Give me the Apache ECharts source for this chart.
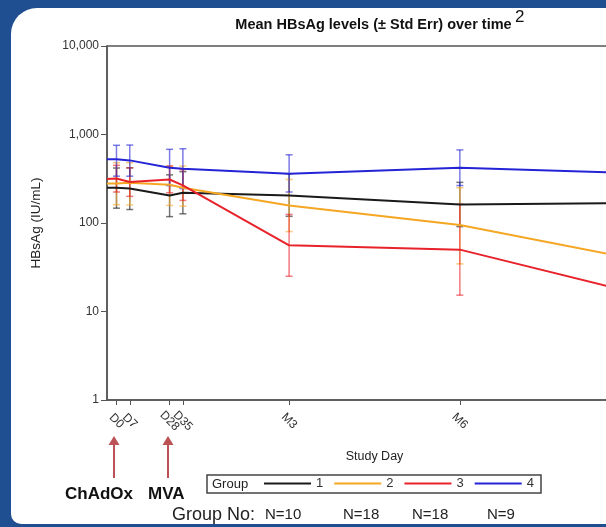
<!DOCTYPE html>
<html><head><meta charset="utf-8">
<script src="https://cdn.jsdelivr.net/npm/echarts@6/dist/echarts.min.js"></script>
<style>
html,body{margin:0;padding:0;background:#1f4e91;width:606px;height:527px;overflow:hidden}
#panel{position:absolute;left:11px;top:8px;width:640px;height:516px;background:#fff;border-radius:26px 0 0 10px}
#c{position:absolute;left:0;top:0;width:606px;height:527px}
</style>
</head><body><div id="panel"></div><div id="c"></div>
<script>
// ---- data ----
const tickDays = [0, 7, 28, 35, 91, 181, 271];
const tickLabels = ['D0', 'D7', 'D28', 'D35', 'M3', 'M6', 'M9'];
const groupNames = ['1', '2', '3', '4'];
const groupColors = ['#1a1a1a', '#f5a623', '#e8222a', '#2424d6'];
const screeningDay = -5;
const screeningMean = [250, 280, 315, 525];
const mean1 = [250, 245, 205, 220, 205, 162, 168];
const low1  = [147, 142, 118, 127, 119, 91, 95];
const high1 = [418, 420, 350, 380, 360, 288, 300];
const mean2 = [280, 285, 270, 250, 158, 95, 40];
const low2  = [161, 160, 158, 155, 80, 34.5, 14];
const high2 = [480, 480, 440, 440, 310, 250, 110];
const mean3 = [318, 290, 310, 266, 56, 50, 16.7];
const low3  = [224, 200, 220, 180, 25, 15.3, 5];
const high3 = [448, 420, 440, 400, 125, 163, 55];
const mean4 = [525, 510, 420, 410, 361, 420, 368];
const low4  = [338, 338, 265, 245, 224, 265, 230];
const high4 = [755, 760, 680, 690, 590, 670, 590];
const groupN = ['N=10', 'N=18', 'N=18', 'N=9'];

const means = [mean1, mean2, mean3, mean4];
const lows = [low1, low2, low3, low4];
const highs = [high1, high2, high3, high4];

const FONT = 'Liberation Sans, Arial, sans-serif';
const chart = echarts.init(document.getElementById('c'), null, {renderer: 'canvas'});

function hexA(hex, a) {
  const n = parseInt(hex.slice(1), 16);
  return 'rgba(' + (n >> 16) + ',' + ((n >> 8) & 255) + ',' + (n & 255) + ',' + a + ')';
}

// overlapping labels are split over two coincident bottom axes so none is dropped
const ticksA = tickDays.filter((d, k) => k !== 1 && k !== 3);
const ticksB = tickDays.filter((d, k) => k === 1 || k === 3);
function labelFor(v) {
  for (let k = 0; k < tickDays.length; k++) {
    if (Math.abs(tickDays[k] - v) < 0.01) return tickLabels[k];
  }
  return '';
}

const series = [];
groupNames.forEach((g, i) => {
  const errData = tickDays.map((d, k) => [d, lows[i][k], highs[i][k]]);
  series.push({
    name: 'err' + g, type: 'custom', z: 2,
    data: errData,
    encode: {x: 0, y: [1, 2]},
    renderItem: function (params, api) {
      const x = api.value(0);
      const lo = api.coord([x, api.value(1)]);
      const hi = api.coord([x, api.value(2)]);
      const w = 3.5;
      const st = {stroke: hexA(groupColors[i], 0.6), lineWidth: 1.5};
      return {type: 'group', children: [
        {type: 'line', shape: {x1: lo[0], y1: lo[1], x2: hi[0], y2: hi[1]}, style: st},
        {type: 'line', shape: {x1: lo[0] - w, y1: lo[1], x2: lo[0] + w, y2: lo[1]}, style: st},
        {type: 'line', shape: {x1: hi[0] - w, y1: hi[1], x2: hi[0] + w, y2: hi[1]}, style: st}
      ]};
    }
  });
});
groupNames.forEach((g, i) => {
  const pts = [[screeningDay, screeningMean[i]]].concat(tickDays.map((d, k) => [d, means[i][k]]));
  series.push({
    name: g, type: 'line', z: 3, data: pts, showSymbol: false, symbol: 'none',
    lineStyle: {color: groupColors[i], width: 2}, itemStyle: {color: groupColors[i]},
    emphasis: {disabled: true}
  });
});

function arrow(x) {
  return [
    {type: 'line', shape: {x1: x, y1: 478, x2: x, y2: 444}, style: {stroke: '#bd5256', lineWidth: 2}},
    {type: 'polygon', shape: {points: [[x, 436], [x - 5.5, 445], [x + 5.5, 445]]}, style: {fill: '#bd5256'}}
  ];
}

const nX = [265, 343, 412, 487];
const graphics = [
  {type: 'text', x: 373.5, y: 25, style: {text: 'Mean HBsAg levels (± Std Err) over time', font: 'bold 14.5px ' + FONT, fill: '#111', textAlign: 'center', textVerticalAlign: 'middle'}},
  {type: 'text', x: 515, y: 17, style: {text: '2', font: '17px ' + FONT, fill: '#111', textAlign: 'left', textVerticalAlign: 'middle'}},
  {type: 'text', x: 374.5, y: 457, style: {text: 'Study Day', font: '12.5px ' + FONT, fill: '#222', textAlign: 'center', textVerticalAlign: 'middle'}},
  {type: 'rect', shape: {x: 207, y: 475, width: 334, height: 18}, style: {fill: 'none', stroke: '#444', lineWidth: 1.5}},
  {type: 'text', x: 212, y: 484.5, style: {text: 'Group', font: '13px ' + FONT, fill: '#222', textAlign: 'left', textVerticalAlign: 'middle'}},
  {type: 'text', x: 133, y: 494, style: {text: 'ChAdOx', font: 'bold 17px ' + FONT, fill: '#111', textAlign: 'right', textVerticalAlign: 'middle'}},
  {type: 'text', x: 148, y: 494, style: {text: 'MVA', font: 'bold 17px ' + FONT, fill: '#111', textAlign: 'left', textVerticalAlign: 'middle'}},
  {type: 'text', x: 172, y: 515, style: {text: 'Group No:', font: '18px ' + FONT, fill: '#222', textAlign: 'left', textVerticalAlign: 'middle'}}
].concat(groupN.map((t, i) => ({type: 'text', x: nX[i], y: 515, style: {text: t, font: '15px ' + FONT, fill: '#222', textAlign: 'left', textVerticalAlign: 'middle'}})))
 .concat(arrow(114)).concat(arrow(168));

function xAxisDef(ticks, showLine) {
  return {
    type: 'value', min: -5, max: 300, position: 'bottom', offset: 0,
    axisLine: {show: showLine, onZero: false, lineStyle: {color: '#555', width: 1.5}},
    axisTick: {show: true, inside: false, length: 5, customValues: ticks, lineStyle: {color: '#555'}},
    axisLabel: {
      show: true, rotate: -45, fontSize: 12, color: '#333', margin: 21,
      align: 'center', verticalAlign: 'middle', hideOverlap: false,
      showMinLabel: true, showMaxLabel: true,
      customValues: ticks,
      formatter: v => labelFor(v)
    },
    splitLine: {show: false}
  };
}

const option = {
  animation: false,
  textStyle: {fontFamily: FONT},
  grid: {left: 107, top: 46, width: 578.6, height: 354, show: true, borderColor: '#555', borderWidth: 1.5,
         backgroundColor: 'transparent', containLabel: false, outerBoundsMode: 'none'},
  xAxis: [xAxisDef(ticksA, true), xAxisDef(ticksB, false)],
  yAxis: {
    type: 'log', logBase: 10, min: 1, max: 10000,
    name: 'HBsAg (IU/mL)', nameLocation: 'middle', nameGap: 64, nameRotate: 90,
    nameTextStyle: {fontSize: 13.5, color: '#222'},
    axisLine: {show: true, onZero: false, lineStyle: {color: '#555', width: 1.5}},
    axisTick: {show: true, inside: false, length: 6, lineStyle: {color: '#555'}},
    axisLabel: {fontSize: 12, color: '#333', margin: 8, hideOverlap: false, formatter: v => Number(v).toLocaleString('en-US')},
    splitLine: {show: false}
  },
  legend: {
    data: groupNames, left: 264, top: 477, icon: 'rect', itemWidth: 47, itemHeight: 2, itemGap: 11,
    textStyle: {fontSize: 13, color: '#333'}, selectedMode: false, padding: 0
  },
  graphic: graphics,
  series: series
};
chart.setOption(option);
</script>
</body></html>
